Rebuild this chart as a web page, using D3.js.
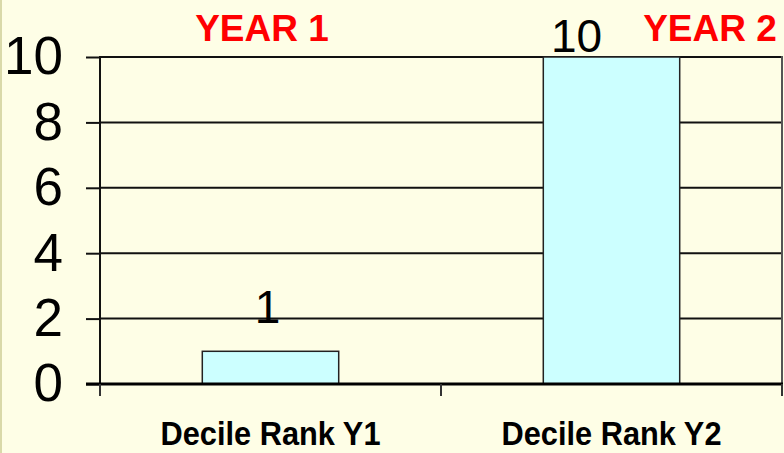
<!doctype html>
<html>
    <head>
        <script src="https://d3js.org/d3.v7.min.js"></script>
        <style>
            body { margin: 0; background: #fefee6; }
            svg { display: block; font-family: "Liberation Sans", Arial, sans-serif; }
        </style>
    </head>
    <body>
        <svg width="784" height="453"></svg>

        <script>
            // chart data
            var categories = ['Decile Rank Y1', 'Decile Rank Y2'];
            var values = [1, 10];
            var yearLabels = ['YEAR 1', 'YEAR 2'];
            var yTicks = [0, 2, 4, 6, 8, 10];

            var svg = d3.select('svg');

            // thin olive strip on the left edge
            svg.append('rect')
                .attr('x', 0).attr('y', 0)
                .attr('width', 2).attr('height', 453)
                .style('fill', '#d9d9a9');

            var xScale = d3.scaleBand()
                .domain(categories)
                .range([100, 782])
                .paddingInner(0.6)
                .paddingOuter(0.3);

            var yScale = d3.scaleLinear().domain([0, 10]).range([384, 57]);

            // gridlines
            svg.append('g').selectAll('line.grid')
                .data(yTicks.filter(d => d > 0))
                .enter()
                .append('line')
                    .attr('class', 'grid')
                    .attr('x1', 100).attr('x2', 782)
                    .attr('y1', d => yScale(d)).attr('y2', d => yScale(d))
                    .style('stroke', '#111')
                    .style('stroke-width', 2);

            // right border
            svg.append('line')
                .attr('x1', 782).attr('x2', 782)
                .attr('y1', 56).attr('y2', 396)
                .style('stroke', '#555')
                .style('stroke-width', 2);

            // bars
            svg.selectAll('rect.bar')
                .data(values)
                .enter()
                .append('rect')
                    .attr('class', 'bar')
                    .attr('x', (d, i) => xScale(categories[i]))
                    .attr('width', xScale.bandwidth())
                    .attr('y', d => yScale(d))
                    .attr('height', d => yScale(0) - yScale(d))
                    .style('fill', '#ccffff')
                    .style('stroke', '#222')
                    .style('stroke-width', 1.5);

            // y axis
            var yAxis = d3.axisLeft(yScale)
                .tickValues(yTicks)
                .tickSize(14)
                .tickPadding(23);

            var yAxisG = svg.append('g')
                .attr('transform', 'translate(100,0)')
                .call(yAxis);
            yAxisG.select('path.domain').remove();
            yAxisG.selectAll('line').style('stroke', '#111').style('stroke-width', 2);
            yAxisG.selectAll('text')
                .style('font-family', '"Liberation Sans", Arial, sans-serif')
                .style('font-size', '53px')
                .style('fill', '#000')
                .attr('dy', '0.32em');

            // y axis vertical line
            svg.append('line')
                .attr('x1', 100).attr('x2', 100)
                .attr('y1', 56).attr('y2', 396)
                .style('stroke', '#111')
                .style('stroke-width', 2);

            // x axis baseline and category ticks
            svg.append('line')
                .attr('x1', 86).attr('x2', 783)
                .attr('y1', yScale(0)).attr('y2', yScale(0))
                .style('stroke', '#000')
                .style('stroke-width', 3);

            var xBounds = [100, 100 + xScale.step(), 782];
            svg.selectAll('line.xtick')
                .data(xBounds)
                .enter()
                .append('line')
                    .attr('class', 'xtick')
                    .attr('x1', d => d).attr('x2', d => d)
                    .attr('y1', yScale(0)).attr('y2', 396)
                    .style('stroke', '#333')
                    .style('stroke-width', 2);

            // category labels
            svg.selectAll('text.cat')
                .data(categories)
                .enter()
                .append('text')
                    .attr('class', 'cat')
                    .attr('x', d => xScale(d) + xScale.bandwidth() / 2)
                    .attr('y', 445)
                    .attr('text-anchor', 'middle')
                    .attr('textLength', 220)
                    .attr('lengthAdjust', 'spacingAndGlyphs')
                    .style('font-size', '33px')
                    .style('font-weight', 'bold')
                    .style('fill', '#000')
                    .text(d => d);

            // value labels
            var labelShift = [-3, -35];
            svg.selectAll('text.val')
                .data(values)
                .enter()
                .append('text')
                    .attr('class', 'val')
                    .attr('x', (d, i) => xScale(categories[i]) + xScale.bandwidth() / 2 + labelShift[i])
                    .attr('y', d => Math.max(yScale(d) - 28, 52))
                    .attr('text-anchor', 'middle')
                    .style('font-size', '46px')
                    .style('fill', '#000')
                    .text(d => d);

            // year headers
            var yearX = [262, 710];
            svg.selectAll('text.year')
                .data(yearLabels)
                .enter()
                .append('text')
                    .attr('class', 'year')
                    .attr('x', (d, i) => yearX[i])
                    .attr('y', 41)
                    .attr('text-anchor', 'middle')
                    .style('font-size', '37px')
                    .style('font-weight', 'bold')
                    .style('fill', '#ff0000')
                    .text(d => d);
        </script>
    </body>
</html>
